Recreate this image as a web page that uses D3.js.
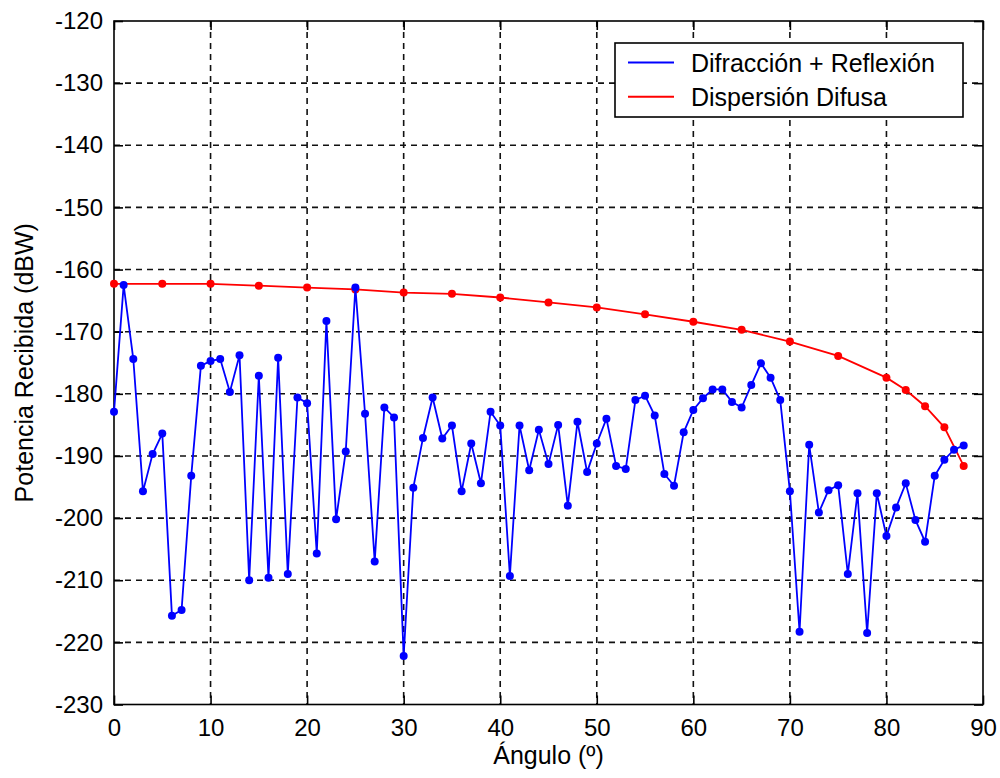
<!DOCTYPE html>
<html lang="en">

<head>
    <script src='https://d3js.org/d3.v7.min.js'></script>
</head>

<body style="margin:0;background:#fff">

    <style>
        svg text {
            fill: #000;
            font-family: "Liberation Sans", Arial, sans-serif;
        }
    </style>

    <script>
        // angulos (grados) de la curva azul
        let angulos = [0, 1, 2, 3, 4, 5, 6, 7, 8, 9, 10, 11, 12, 13, 14, 15, 16, 17, 18, 19,
            20, 21, 22, 23, 24, 25, 26, 27, 28, 29, 30, 31, 32, 33, 34, 35, 36, 37, 38, 39,
            40, 41, 42, 43, 44, 45, 46, 47, 48, 49, 50, 51, 52, 53, 54, 55, 56, 57, 58, 59,
            60, 61, 62, 63, 64, 65, 66, 67, 68, 69, 70, 71, 72, 73, 74, 75, 76, 77, 78, 79,
            80, 81, 82, 83, 84, 85, 86, 87, 88];

        // Difraccion + Reflexion (dBW)
        let difraccion = [-182.9, -162.5, -174.4, -195.7, -189.7, -186.4, -215.7, -214.8, -193.2, -175.5,
            -174.7, -174.4, -179.7, -173.8, -210.0, -177.1, -209.6, -174.2, -209.0, -180.6,
            -181.5, -205.7, -168.3, -200.2, -189.3, -162.9, -183.2, -207.0, -182.2, -183.8,
            -222.2, -195.1, -187.1, -180.6, -187.2, -185.1, -195.7, -188.0, -194.4, -182.9,
            -185.1, -209.3, -185.1, -192.3, -185.8, -191.3, -185.0, -198.0, -184.5, -192.6,
            -188.0, -184.0, -191.6, -192.1, -181.0, -180.3, -183.5, -192.9, -194.8, -186.2,
            -182.6, -180.7, -179.3, -179.3, -181.3, -182.2, -178.6, -175.1, -177.4, -181.0,
            -195.7, -218.3, -188.2, -199.1, -195.5, -194.7, -209.0, -196.0, -218.5, -196.0,
            -202.9, -198.3, -194.4, -200.3, -203.8, -193.2, -190.6, -189.0, -188.3];

        // Dispersion Difusa
        let angulosDifusa = [0, 5, 10, 15, 20, 25, 30, 35, 40, 45, 50, 55, 60, 65, 70, 75, 80, 82, 84, 86, 88];
        let difusa = [-162.3, -162.3, -162.3, -162.6, -162.9, -163.2, -163.7, -163.9, -164.5, -165.3,
            -166.1, -167.2, -168.4, -169.7, -171.6, -173.9, -177.4, -179.4, -182.0, -185.4, -191.6];

        let xTicks = [0, 10, 20, 30, 40, 50, 60, 70, 80, 90];
        let yTicks = [-120, -130, -140, -150, -160, -170, -180, -190, -200, -210, -220, -230];
        let nombres = ["Difracción + Reflexión", "Dispersión Difusa"];
        let colores = ["#0000ff", "#ff0000"];

        var width = 1000, height = 778;
        var mLeft = 114, mRight = 983, mTop = 21, mBottom = 704.5;

        var x = d3.scaleLinear().domain([0, 90]).range([mLeft, mRight]);
        var y = d3.scaleLinear().domain([-230, -120]).range([mBottom, mTop]);

        var svg = d3.select("body")
            .append("svg")
            .attr("width", width)
            .attr("height", height);

        svg.append("rect")
            .attr("width", width)
            .attr("height", height)
            .attr("fill", "#fff");

        // rejilla punteada
        var grid = svg.append("g")
            .attr("stroke", "#111")
            .attr("stroke-width", 1.6)
            .attr("stroke-dasharray", "6,5");

        grid.selectAll(".gx")
            .data(xTicks.slice(1, -1))
            .enter()
            .append("line")
            .attr("x1", d => x(d)).attr("x2", d => x(d))
            .attr("y1", mTop).attr("y2", mBottom);

        grid.selectAll(".gy")
            .data(yTicks.slice(1, -1))
            .enter()
            .append("line")
            .attr("y1", d => y(d)).attr("y2", d => y(d))
            .attr("x1", mLeft).attr("x2", mRight);

        // ejes con ticks hacia dentro
        var tickLen = 9;
        svg.append("g")
            .attr("transform", "translate(0," + mBottom + ")")
            .call(d3.axisBottom(x).tickValues(xTicks).tickSizeInner(-tickLen).tickSizeOuter(0).tickPadding(14))
            .call(g => g.select(".domain").remove());
        svg.append("g")
            .attr("transform", "translate(0," + mTop + ")")
            .call(d3.axisTop(x).tickValues(xTicks).tickSizeInner(-tickLen).tickSizeOuter(0).tickFormat(""))
            .call(g => g.select(".domain").remove());
        svg.append("g")
            .attr("transform", "translate(" + mLeft + ",0)")
            .call(d3.axisLeft(y).tickValues(yTicks).tickSizeInner(-tickLen).tickSizeOuter(0).tickPadding(11)
                .tickFormat(d => d))
            .call(g => g.select(".domain").remove());
        svg.append("g")
            .attr("transform", "translate(" + mRight + ",0)")
            .call(d3.axisRight(y).tickValues(yTicks).tickSizeInner(-tickLen).tickSizeOuter(0).tickFormat(""))
            .call(g => g.select(".domain").remove());

        svg.selectAll(".tick line")
            .attr("stroke", "#000")
            .attr("stroke-width", 1.6);
        svg.selectAll(".tick text")
            .style("font-size", "24px")
            .style("font-family", "'Liberation Sans', Arial, sans-serif")
            .attr("fill", "#000");

        svg.append("rect")
            .attr("x", mLeft)
            .attr("y", mTop)
            .attr("width", mRight - mLeft)
            .attr("height", mBottom - mTop)
            .attr("fill", "none")
            .attr("stroke", "#000")
            .attr("stroke-width", 1.6);

        // series
        var linea = d3.line()
            .x(d => x(d[0]))
            .y(d => y(d[1]));

        var serieRoja = angulosDifusa.map((a, i) => [a, difusa[i]]);
        var serieAzul = angulos.map((a, i) => [a, difraccion[i]]);

        [[serieRoja, colores[1]], [serieAzul, colores[0]]].forEach(function(s) {
            svg.append("path")
                .datum(s[0])
                .attr("d", linea)
                .attr("fill", "none")
                .attr("stroke", s[1])
                .attr("stroke-width", 1.8);
            svg.append("g")
                .selectAll("circle")
                .data(s[0])
                .enter()
                .append("circle")
                .attr("cx", d => x(d[0]))
                .attr("cy", d => y(d[1]))
                .attr("r", 4)
                .attr("fill", s[1]);
        });

        // titulos de ejes
        svg.append("text")
            .attr("x", (mLeft + mRight) / 2)
            .attr("y", 764)
            .attr("text-anchor", "middle")
            .style("font-size", "25px")
            .text("Ángulo (º)");

        svg.append("text")
            .attr("transform", "translate(33," + ((mTop + mBottom) / 2) + ") rotate(-90)")
            .attr("text-anchor", "middle")
            .style("font-size", "25px")
            .text("Potencia Recibida (dBW)");

        // leyenda
        var leg = svg.append("g");
        leg.append("rect")
            .attr("x", 615)
            .attr("y", 43)
            .attr("width", 348)
            .attr("height", 74)
            .attr("fill", "#fff")
            .attr("stroke", "#000")
            .attr("stroke-width", 1.6);

        var filas = leg.selectAll(".fila")
            .data(nombres)
            .enter()
            .append("g")
            .attr("transform", (d, i) => "translate(0," + (62.5 + i * 34.3) + ")");
        filas.append("line")
            .attr("x1", 628).attr("x2", 674)
            .attr("stroke", (d, i) => colores[i])
            .attr("stroke-width", 2);
        filas.append("text")
            .attr("x", 691)
            .attr("dy", "0.36em")
            .style("font-size", "25px")
            .text(d => d);
    </script>
</body>

</html>
